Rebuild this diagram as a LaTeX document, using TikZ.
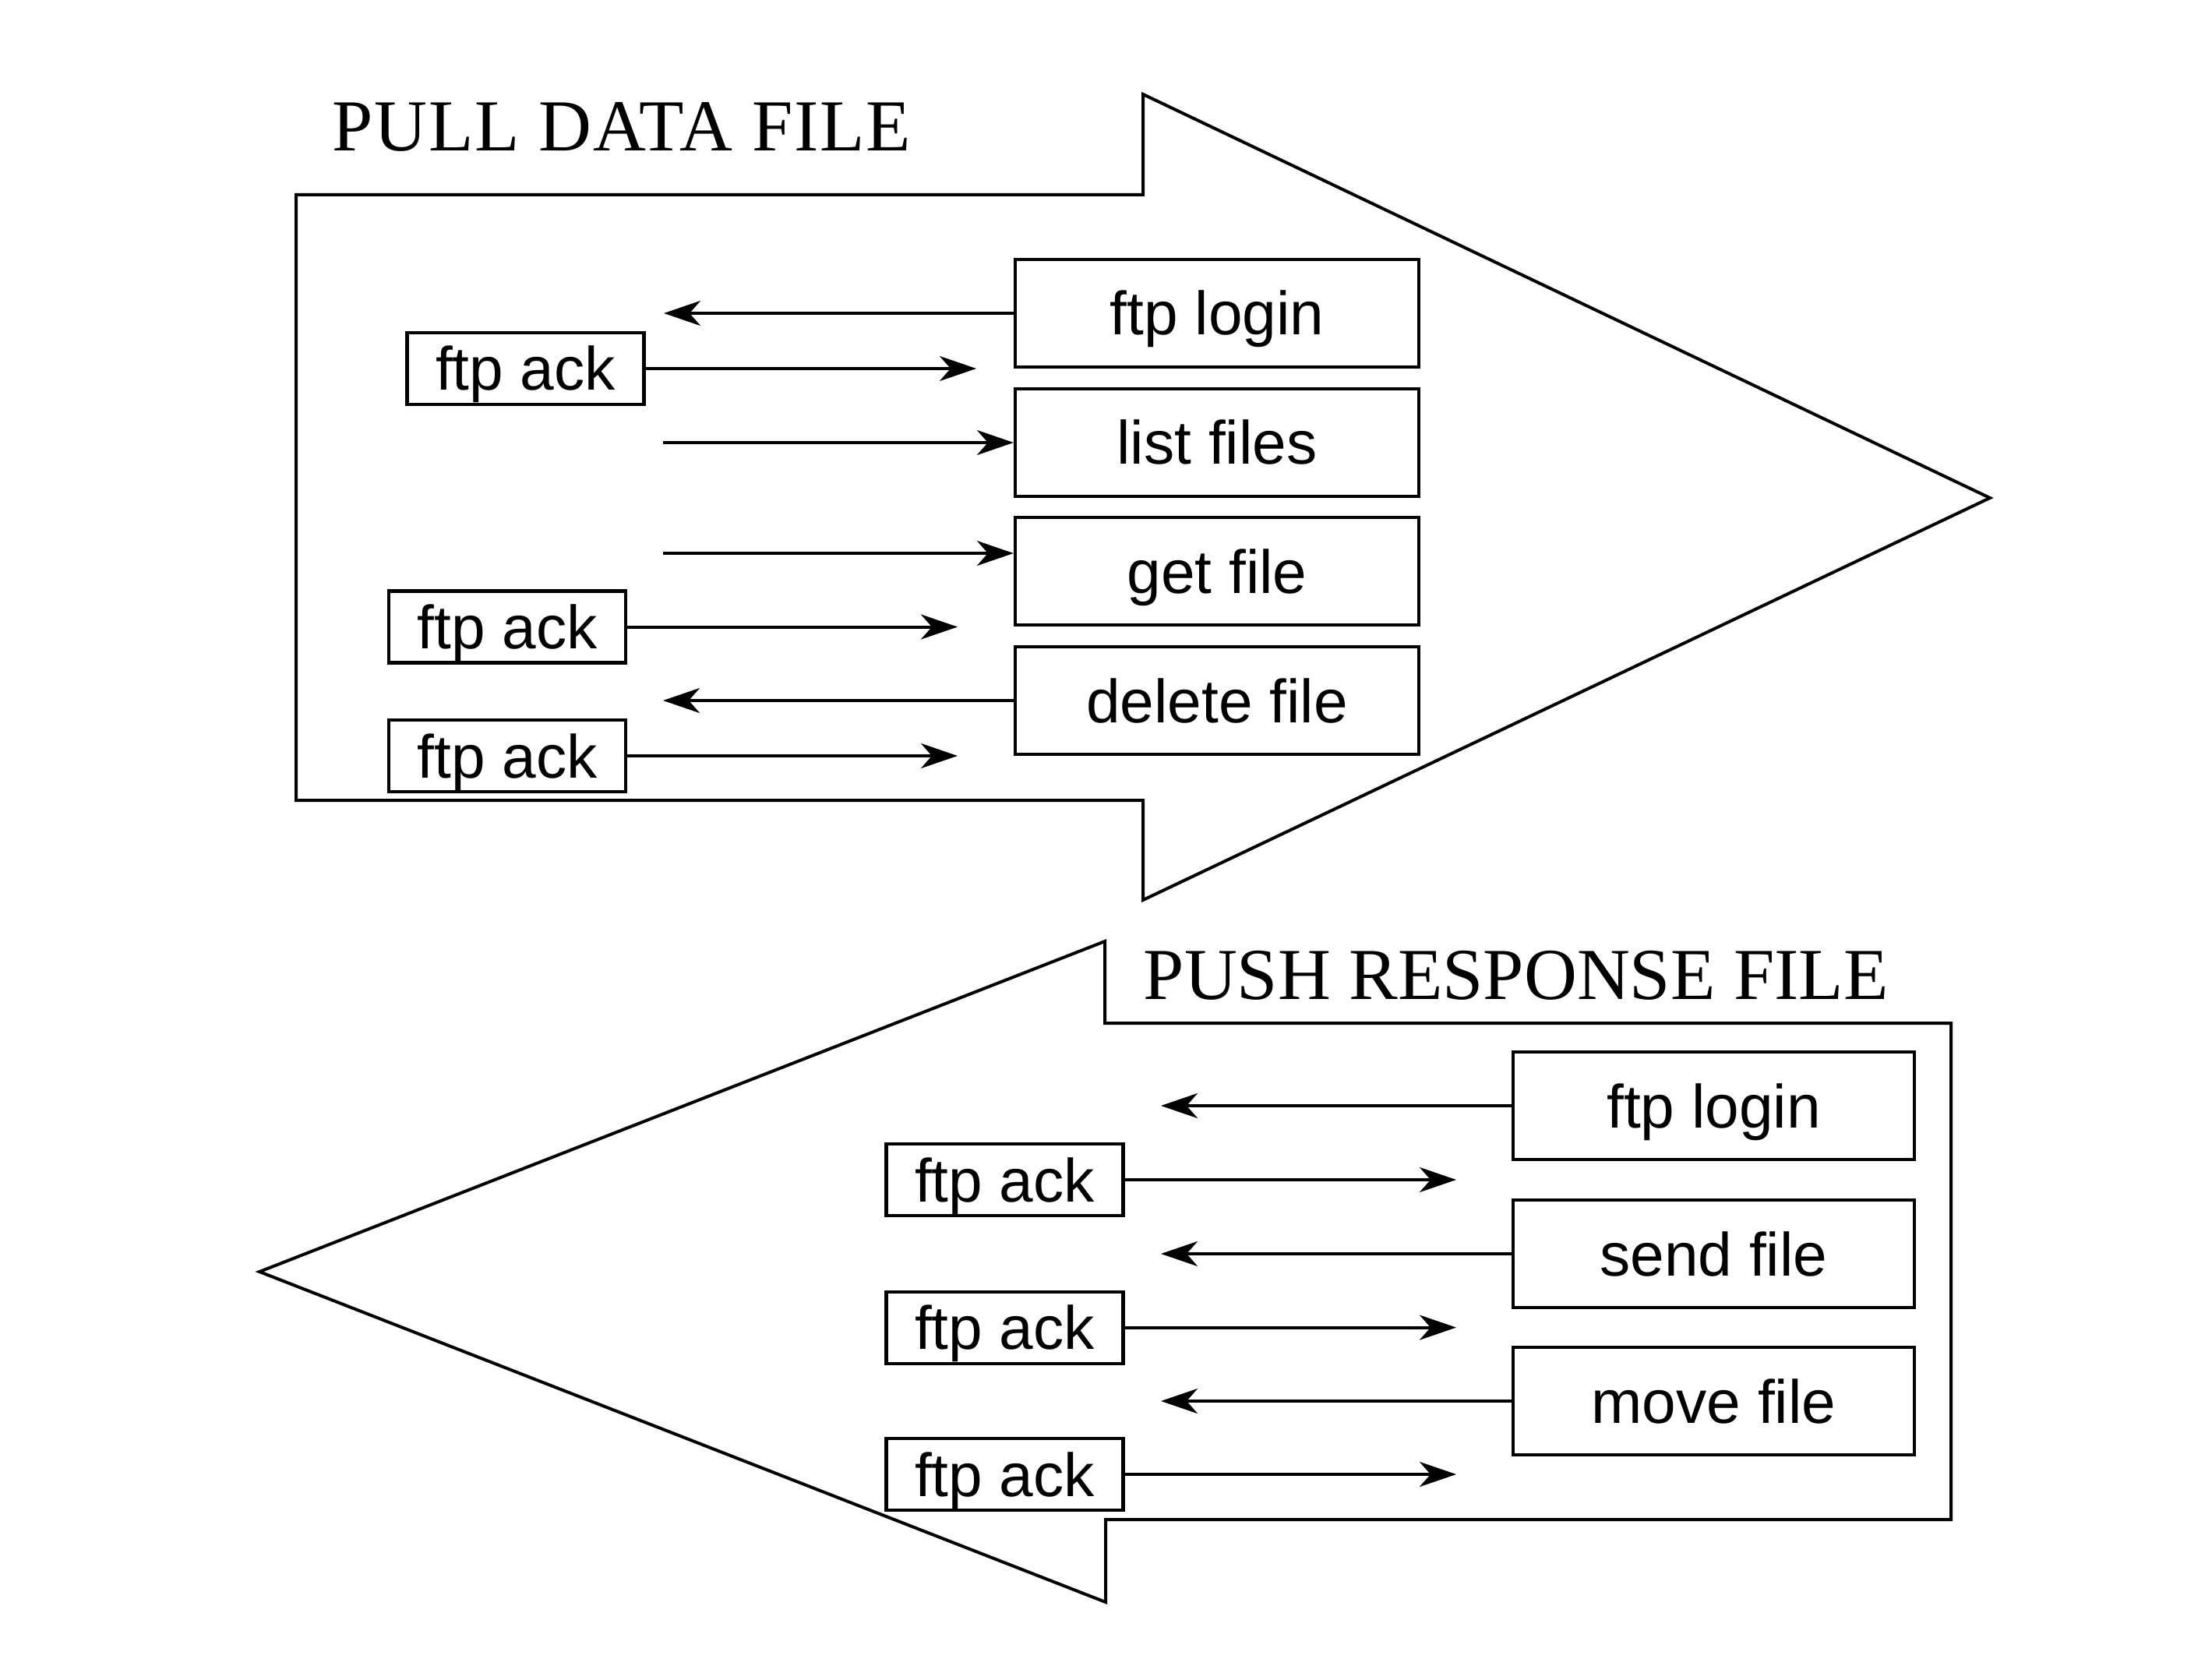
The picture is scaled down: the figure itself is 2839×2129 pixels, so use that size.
\documentclass[tikz,border=0pt]{standalone}
\usepackage{fontspec}
\setmainfont{Liberation Sans}
\newfontfamily\titlefont{Liberation Serif}
\newfontfamily\titlefontwide[LetterSpace=1.8]{Liberation Serif}
\usetikzlibrary{arrows.meta}
\tikzset{
  bigarrow/.style={line width=1pt, line join=miter},
  cmdbox/.style={draw, line width=1.05pt, minimum width=129.5pt, minimum height=34.5pt, inner sep=0pt,
    text height=14pt, text depth=0pt, font=\fontsize{19.6}{23}\selectfont},
  ackbox/.style={draw, line width=1.05pt, minimum width=76pt, minimum height=23pt, inner sep=0pt,
    text height=14pt, text depth=0pt, font=\fontsize{19.6}{23}\selectfont},
  msg/.style={line width=1pt, -{Stealth[length=11.75pt,width=8pt,inset=3.5pt]}},
  title/.style={anchor=base west, inner sep=0pt, font=\titlefont\fontsize{23.5}{28}\selectfont}
}
\begin{document}
\begin{tikzpicture}[x=0.25pt, y=-0.25pt]
\useasboundingbox (0,0) rectangle (2839,2129);
% ---------- upper big arrow ----------
\draw[bigarrow] (380,250) -- (1467,250) -- (1467,121) -- (2554,639) -- (1467,1155) -- (1467,1027) -- (380,1027) -- cycle;
\node[title, font=\titlefontwide\fontsize{23.5}{28}\selectfont] (pulltitle) at (426,194) {PULL DATA FILE};
% right column
\node[cmdbox] (login1) at (1562,402) {ftp login};
\node[cmdbox] (list)   at (1562,568) {list files};
\node[cmdbox] (get)    at (1562,733) {get file};
\node[cmdbox] (delete) at (1562,899) {delete file};
% acks
\node[ackbox] (ackA) at (674.5,473) {ftp ack};
\node[ackbox] (ackB) at (651,804.5) {ftp ack};
\node[ackbox] (ackC) at (651,970) {ftp ack};
% free ends
\coordinate (e1) at (852,402);
\coordinate (e2) at (1253,473);
\coordinate (s3) at (851,568);
\coordinate (s4) at (851,710);
\coordinate (e5) at (1229,804.5);
\coordinate (e6) at (851,899);
\coordinate (e7) at (1229,970);
\draw[msg] (login1.west) -- (e1);
\draw[msg] (ackA.east) -- (e2);
\draw[msg] (s3) -- (s3 -| list.west);
\draw[msg] (s4) -- (s4 -| get.west);
\draw[msg] (ackB.east) -- (e5);
\draw[msg] (delete.west) -- (e6);
\draw[msg] (ackC.east) -- (e7);
% ---------- lower big arrow ----------
\draw[bigarrow] (2504,1313) -- (1418,1313) -- (1418,1208) -- (333,1632) -- (1419,2056) -- (1419,1950) -- (2504,1950) -- cycle;
\node[title] (pushtitle) at (1467,1282) {PUSH RESPONSE FILE};
\node[cmdbox, minimum width=128.75pt] (login2) at (2199.5,1419) {ftp login};
\node[cmdbox, minimum width=128.75pt] (send)   at (2199.5,1609) {send file};
\node[cmdbox, minimum width=128.75pt] (move)   at (2199.5,1798) {move file};
\node[ackbox] (ackD) at (1289.5,1514) {ftp ack};
\node[ackbox] (ackE) at (1289.5,1703.6) {ftp ack};
\node[ackbox] (ackF) at (1289.5,1892) {ftp ack};
\coordinate (f1) at (1490,1419);
\coordinate (f2) at (1869,1514);
\coordinate (f3) at (1490,1609);
\coordinate (f4) at (1869,1703.6);
\coordinate (f5) at (1490,1798);
\coordinate (f6) at (1869,1892);
\draw[msg] (login2.west) -- (f1);
\draw[msg] (ackD.east) -- (f2);
\draw[msg] (send.west) -- (f3);
\draw[msg] (ackE.east) -- (f4);
\draw[msg] (move.west) -- (f5);
\draw[msg] (ackF.east) -- (f6);
\end{tikzpicture}
\end{document}
